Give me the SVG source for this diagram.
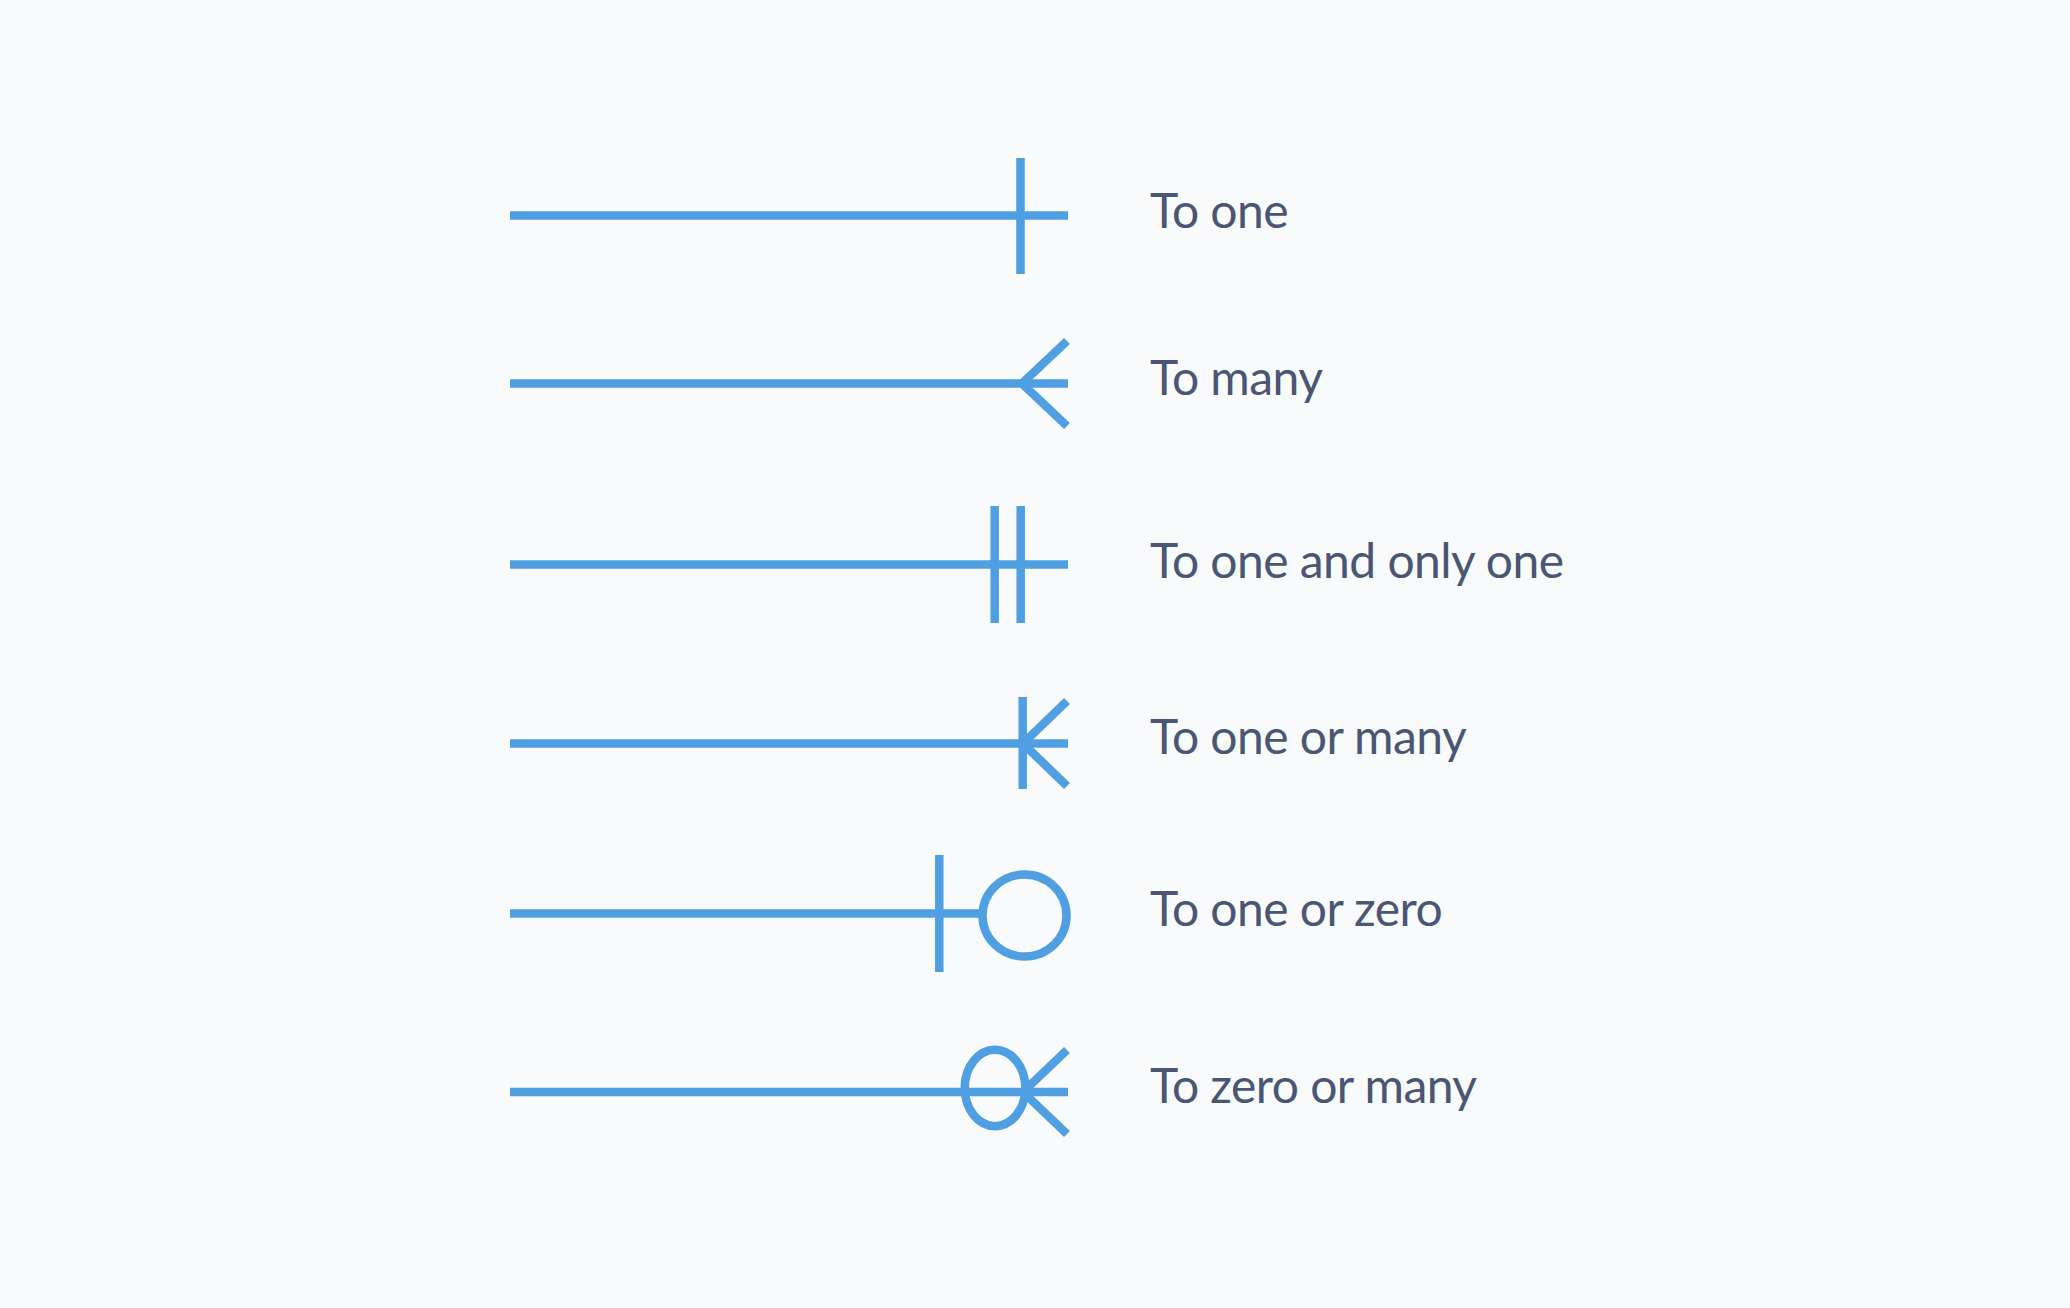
<svg xmlns="http://www.w3.org/2000/svg" width="2070" height="1308" viewBox="0 0 2070 1308">
<style>
.ln{stroke:#519fe3;stroke-width:8.5;fill:none;stroke-linecap:butt}
.lbl{font-family:Lato,"Liberation Sans",sans-serif;font-size:48px;letter-spacing:-0.55px;fill:#4a5674}
</style>
<rect width="2070" height="1308" fill="#f8fafc"/>
<g id="connectors">
<line class="ln" x1="510" y1="215.5" x2="1068" y2="215.5"/>
<line class="ln" x1="510" y1="383.5" x2="1068" y2="383.5"/>
<line class="ln" x1="510" y1="564.5" x2="1068" y2="564.5"/>
<line class="ln" x1="510" y1="743.5" x2="1068" y2="743.5"/>
<line class="ln" x1="510" y1="913.5" x2="979" y2="913.5"/>
<line class="ln" x1="510" y1="1092" x2="1068" y2="1092"/>
</g>
<g id="to-one">
<line class="ln" x1="1020.5" y1="158" x2="1020.5" y2="274"/>
<text class="lbl" x="1150" y="227.7">To one</text>
</g>
<g id="to-many">
<polyline class="ln" points="1067,341 1022,383.5 1067,426"/>
<text class="lbl" x="1150" y="395">To many</text>
</g>
<g id="to-one-and-only-one">
<line class="ln" x1="994.7" y1="506" x2="994.7" y2="623"/>
<line class="ln" x1="1020.7" y1="506" x2="1020.7" y2="623"/>
<text class="lbl" x="1150" y="577.7">To one and only one</text>
</g>
<g id="to-one-or-many">
<line class="ln" x1="1022.7" y1="697" x2="1022.7" y2="789"/>
<polyline class="ln" points="1067,701 1023,743.5 1067,786"/>
<text class="lbl" x="1150" y="754.3">To one or many</text>
</g>
<g id="to-one-or-zero">
<line class="ln" x1="939.3" y1="855" x2="939.3" y2="972"/>
<ellipse class="ln" cx="1024.5" cy="915.5" rx="42" ry="41"/>
<text class="lbl" x="1150" y="926">To one or zero</text>
</g>
<g id="to-zero-or-many">
<ellipse class="ln" cx="995" cy="1088" rx="30.3" ry="38.2"/>
<polyline class="ln" points="1067,1050 1023,1092 1067,1134"/>
<text class="lbl" x="1150" y="1102.7">To zero or many</text>
</g>
</svg>
